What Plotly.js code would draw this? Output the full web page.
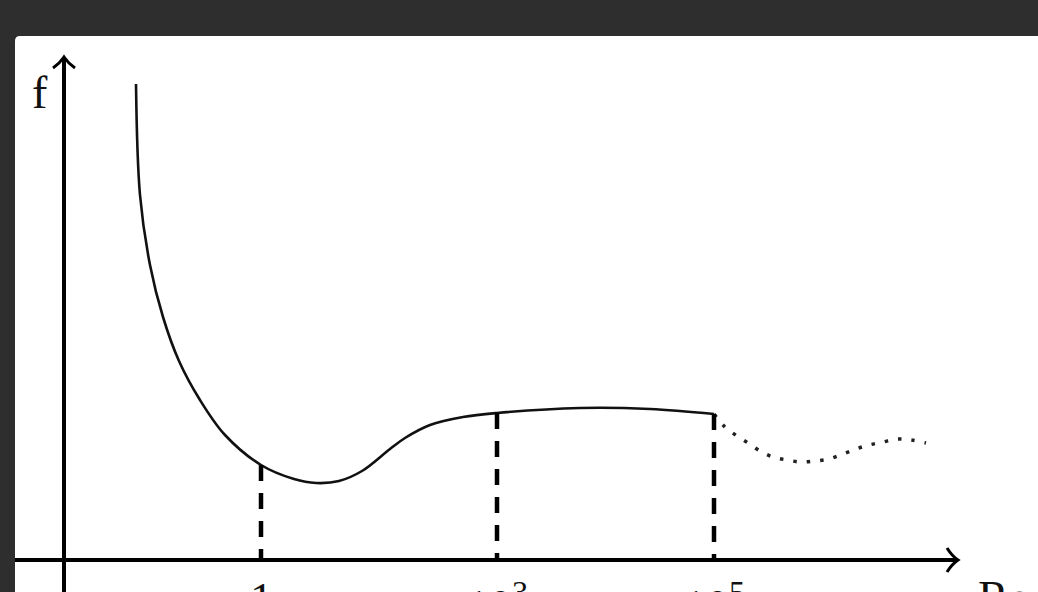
<!DOCTYPE html>
<html>
<head>
<meta charset="utf-8">
<script src="https://cdn.plot.ly/plotly-3.0.1.min.js"></script>
<style>html,body{margin:0;padding:0;background:#2e2e2e;}#chart{width:1038px;height:592px;}</style>
</head>
<body>
<div id="chart"></div>
<script>
// Schematic units: x = position along the Re axis, f = height above the Re axis
const curveX = [72, 76, 86, 99, 115, 136, 161, 197, 230, 252, 275, 298, 326, 341, 366, 399, 433, 516, 586, 650];
const curveF = [476, 365, 295, 243, 199, 160, 125, 95, 81, 77, 79, 89, 111, 122, 135, 143, 147, 152, 151, 146];
const turbX = [650, 661, 673, 684, 696, 709, 723, 737, 751, 765, 779, 792, 805, 819, 833, 847, 862];
const turbF = [146, 133, 124, 117, 109, 103, 100, 98, 99, 101, 106, 111, 115, 118, 121, 120, 117];
const tickPos = [197, 433, 650];
const tickText = ['1', '10<sup>3</sup>', '10<sup>5</sup>'];
const dropF = [95, 147, 146];
const xLabel = 'Re';
const yLabel = 'f';

const traces = [];
traces.push({x: curveX, y: curveF, mode: 'lines', line: {color: '#111', width: 2.6, shape: 'spline', smoothing: 1}, hoverinfo: 'skip'});
traces.push({x: turbX, y: turbF, mode: 'lines', line: {color: '#222', width: 3.5, shape: 'spline', smoothing: 1, dash: '3.5px,10px'}, hoverinfo: 'skip'});
tickPos.forEach((xp, i) => {
  traces.push({x: [xp, xp], y: [dropF[i], 0], mode: 'lines', line: {color: '#000', width: 4.5, dash: '16px,12px'}, hoverinfo: 'skip'});
});

const font = {family: 'Liberation Serif, Times New Roman, serif', size: 46, color: '#111'};
const annotations = tickPos.map((xp, i) => ({
  x: xp, y: -12, xref: 'x', yref: 'y', text: tickText[i], showarrow: false,
  xanchor: 'center', yanchor: 'top', font: font
}));
annotations.push({x: 912, y: -10, xref: 'x', yref: 'y', text: xLabel, showarrow: false, xanchor: 'left', yanchor: 'top', font: font});
annotations.push({x: -24, y: 468, xref: 'x', yref: 'y', text: yLabel, showarrow: false, xanchor: 'center', yanchor: 'middle', font: font});

const shapes = [
  {type: 'path', xref: 'x', yref: 'y', layer: 'below', path: 'M -49,-40 L -49,519 Q -49,524 -44,524 L 980,524 L 980,-40 Z', fillcolor: '#ffffff', line: {width: 0}},
  {type: 'line', xref: 'x', yref: 'y', x0: -49, y0: 0, x1: 893, y1: 0, line: {color: '#000', width: 4}},
  {type: 'path', xref: 'x', yref: 'y', path: 'M 883,12 Q 888,4 894,0 Q 888,-4 883,-12', line: {color: '#000', width: 3}},
  {type: 'line', xref: 'x', yref: 'y', x0: 0, y0: -40, x1: 0, y1: 502, line: {color: '#000', width: 4}},
  {type: 'path', xref: 'x', yref: 'y', path: 'M -11,492 Q -4,497 0,503 Q 4,497 11,492', line: {color: '#000', width: 3}}
];

const layout = {
  width: 1038, height: 592,
  margin: {l: 0, r: 0, t: 0, b: 0},
  paper_bgcolor: '#2e2e2e', plot_bgcolor: 'rgba(0,0,0,0)',
  showlegend: false,
  xaxis: {range: [-64, 974], visible: false, fixedrange: true},
  yaxis: {range: [-32, 560], visible: false, fixedrange: true},
  shapes: shapes, annotations: annotations
};
Plotly.newPlot('chart', traces, layout, {displayModeBar: false, staticPlot: true});
</script>
</body>
</html>
